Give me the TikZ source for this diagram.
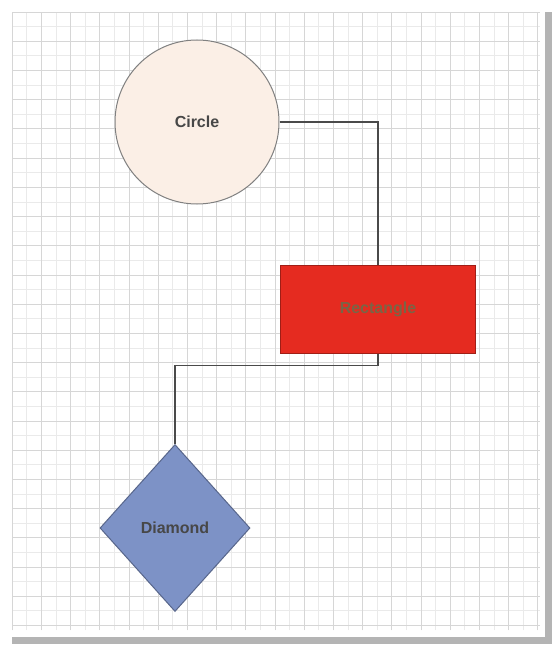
\documentclass[tikz,border=0pt]{standalone}
\usepackage{fontspec}
\setsansfont{Liberation Sans}
\usepackage{xcolor}
\usetikzlibrary{shapes.geometric, positioning, calc}
\definecolor{pageshadow}{HTML}{B4B4B4}
\definecolor{gridlight}{HTML}{EAEAEA}
\definecolor{griddark}{HTML}{D6D6D6}
\definecolor{circlefill}{HTML}{FBEFE6}
\definecolor{rectfill}{HTML}{E52B20}
\definecolor{recttext}{HTML}{7A6446}
\definecolor{diamondfill}{HTML}{7D92C6}
\definecolor{linkgray}{HTML}{4A4A4A}

\begin{document}
\begin{tikzpicture}[
    x=1pt, y=-1pt,
    shapeborder/.style={draw=linkgray!70, line width=1pt, font=\sffamily\bfseries\fontsize{16}{19}\selectfont, text=black!72},
    circlenode/.style={shapeborder, circle, fill=circlefill, minimum size=164pt, inner sep=0pt},
    rectnode/.style={shapeborder, rectangle, fill=rectfill, draw=rectfill!70!black,
        minimum width=195pt, minimum height=88pt, text=recttext},
    diamondnode/.style={shapeborder, diamond, fill=diamondfill, draw=diamondfill!70!black,
        minimum width=150pt, minimum height=167pt, inner sep=0pt},
    link/.style={draw=linkgray, line width=1.4pt}
]
\useasboundingbox (0,0) rectangle (554,647);

% Paper and its shadow
\fill[pageshadow] (12,12) rectangle (552,644);
\fill[white] (5,5) rectangle (545,637);
\draw[gridlight, line width=0.6pt, step=14.6pt, shift={(12,12)}] (0,0) grid (528,618);
\draw[griddark, line width=0.6pt, step=29.2pt, shift={(12,12)}] (0,0) grid (528,618);

% Shapes
\node[circlenode] (circ) at (197,122) {Circle};
\node[rectnode] (rect) at (378,309) {Rectangle};
\node[diamondnode] (diam) at (175,528) {Diamond};

% Connectors
\draw[link] (circ.east) -| (rect.north);
\draw[link] (rect.south) -- ++(0,12) -| (diam.north);

\end{tikzpicture}
\end{document}
